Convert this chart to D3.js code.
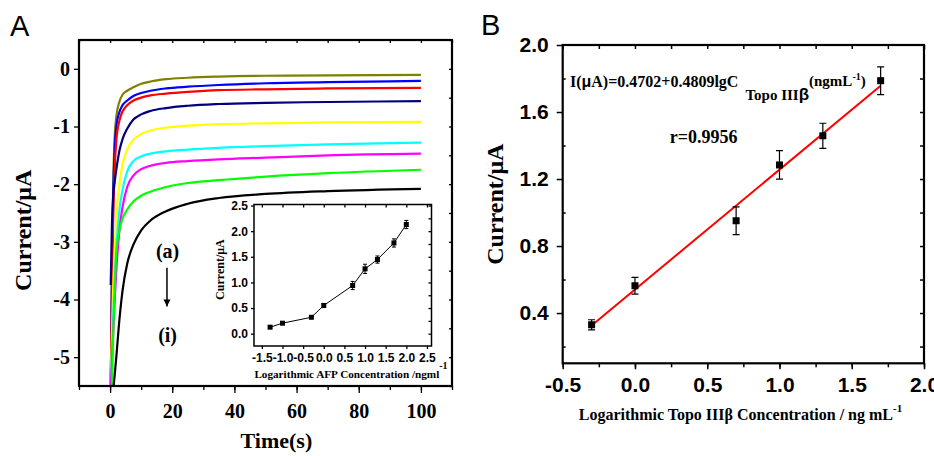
<!DOCTYPE html>
<meta charset="utf-8">
<script src="https://d3js.org/d3.v7.min.js"></script>
<body style="margin:0">
<div id="my_dataviz"></div>
<script>

// ---- panel A : current vs time, curves (a) .. (i)
var timeS = [0.2, 0.6, 1, 1.5, 2, 3, 4, 5.5, 7.5, 10, 13, 18, 25, 35, 50, 70, 100];
var curve_a = [-5.6, -3.4, -2.0, -1.15, -0.83, -0.57, -0.45, -0.38, -0.32, -0.26, -0.22, -0.18, -0.155, -0.135, -0.12, -0.115, -0.105];
var curve_b = [-5.6, -3.6, -2.2, -1.35, -1.0, -0.75, -0.63, -0.55, -0.47, -0.42, -0.38, -0.34, -0.31, -0.28, -0.25, -0.23, -0.21];
var curve_c = [-5.6, -3.9, -2.6, -1.7, -1.25, -0.9, -0.74, -0.63, -0.55, -0.5, -0.46, -0.43, -0.40, -0.37, -0.355, -0.34, -0.33];
var curve_d = [-3.75, -2.7, -2.2, -1.95, -1.75, -1.42, -1.22, -1.04, -0.88, -0.79, -0.73, -0.68, -0.64, -0.61, -0.59, -0.575, -0.56];
var curve_e = [-5.6, -4.6, -3.8, -3.1, -2.6, -2.0, -1.66, -1.40, -1.23, -1.13, -1.07, -1.02, -0.985, -0.96, -0.945, -0.93, -0.92];
var curve_f = [-5.6, -4.9, -4.3, -3.6, -3.1, -2.45, -2.1, -1.78, -1.6, -1.52, -1.47, -1.43, -1.40, -1.37, -1.34, -1.31, -1.28];
var curve_g = [-5.6, -5.1, -4.6, -4.0, -3.5, -2.8, -2.4, -2.05, -1.85, -1.74, -1.68, -1.63, -1.60, -1.57, -1.54, -1.50, -1.47];
var curve_h = [-5.8, -5.5, -4.6, -3.8, -3.2, -2.8, -2.6, -2.44, -2.3, -2.2, -2.13, -2.05, -1.98, -1.93, -1.87, -1.81, -1.75];
var curve_i = [-6.0, -6.0, -5.6, -5.3, -5.0, -4.35, -3.85, -3.38, -3.05, -2.8, -2.63, -2.47, -2.34, -2.24, -2.17, -2.12, -2.08];
var curveColors = ["#808000", "#0000ff", "#ff0000", "#000080", "#ffff00", "#00ffff", "#ff00ff", "#00ff00", "#000000"];
var timeTicks = [0, 20, 40, 60, 80, 100];
var currentTicks = [-5, -4, -3, -2, -1, 0];

// ---- inset : current vs log AFP
var afpLog = [-1.3, -1.0, -0.3, 0, 0.7, 1.0, 1.3, 1.7, 2.0];
var afpCurrent = [0.127, 0.205, 0.32, 0.55, 0.94, 1.265, 1.446, 1.77, 2.13];
var afpError = [0.015, 0.015, 0.02, 0.04, 0.08, 0.09, 0.07, 0.08, 0.08];
var insetXTicks = [-1.5, -1.0, -0.5, 0, 0.5, 1.0, 1.5, 2.0, 2.5];
var insetYTicks = [0, 0.5, 1.0, 1.5, 2.0, 2.5];

// ---- panel B : calibration line
var topoLog = [-0.3, 0, 0.7, 1.0, 1.3, 1.7];
var topoCurrent = [0.33, 0.563, 0.951, 1.284, 1.458, 1.787];
var topoError = [0.03, 0.05, 0.083, 0.085, 0.075, 0.083];
var fitLog = [-0.3, 1.7];
var fitCurrent = [0.326, 1.757];
var bXTicks = [-0.5, 0, 0.5, 1.0, 1.5, 2.0];
var bYTicks = [0.4, 0.8, 1.2, 1.6, 2.0];

var serif = "'Liberation Serif', 'Times New Roman', serif";
var sans = "'Liberation Sans', Arial, sans-serif";

var svg = d3.select("#my_dataviz")
    .append("svg")
    .attr("width", 934)
    .attr("height", 456)
    .style("background", "white");

// styles the text of an axis call and drops the domain path
function styleAxis(g, font, size) {
    g.select(".domain").remove();
    g.selectAll("line").attr("stroke", "black").attr("stroke-width", 1.5);
    g.selectAll("text").attr("font-family", font).attr("font-size", size)
        .attr("font-weight", "bold").attr("fill", "black");
}

// ================= panel A =================
var xA = d3.scaleLinear().domain([-10, 110]).range([79, 452]);
var yA = d3.scaleLinear().domain([-5.5, 0.5]).range([386, 40]);

svg.append("clipPath").attr("id", "clipA")
    .append("rect")
    .attr("x", xA(-10)).attr("y", yA(0.5))
    .attr("width", xA(110) - xA(-10)).attr("height", yA(-5.5) - yA(0.5));

var curves = [curve_a, curve_b, curve_c, curve_d, curve_e, curve_f, curve_g, curve_h, curve_i];
var lineA = d3.line()
    .x(function (d, i) { return xA(timeS[i]) })
    .y(function (d) { return yA(d) })
    .curve(d3.curveMonotoneX);

svg.append("g")
    .attr("clip-path", "url(#clipA)")
    .selectAll("path")
    .data(curves)
    .enter()
    .append("path")
    .attr("d", function (d) { return lineA(d) })
    .attr("stroke", function (d, i) { return curveColors[i] })
    .attr("stroke-width", 2.2)
    .attr("fill", "none");

// minor + major ticks
svg.append("g")
    .attr("transform", "translate(0," + yA(-5.5) + ")")
    .call(d3.axisBottom(xA).tickValues(d3.range(-10, 111, 10)).tickSize(4).tickFormat(""))
    .call(styleAxis, serif, 19);
svg.append("g")
    .attr("transform", "translate(0," + yA(-5.5) + ")")
    .call(d3.axisBottom(xA).tickValues(timeTicks).tickSize(7).tickPadding(11).tickFormat(function (d) { return String(d) }))
    .call(styleAxis, serif, 20);
svg.append("g")
    .attr("transform", "translate(0," + yA(0.5) + ")")
    .call(d3.axisTop(xA).tickValues(d3.range(-10, 111, 10)).tickSize(-3).tickFormat(""))
    .call(styleAxis, serif, 19);
svg.append("g")
    .attr("transform", "translate(" + xA(-10) + ",0)")
    .call(d3.axisLeft(yA).tickValues(currentTicks).tickSize(5).tickPadding(4).tickFormat(function (d) { return String(d) }))
    .call(styleAxis, serif, 20);
svg.append("g")
    .attr("transform", "translate(" + xA(110) + ",0)")
    .call(d3.axisRight(yA).tickValues(d3.range(-5.5, 0.51, 0.5)).tickSize(-3).tickFormat(""))
    .call(styleAxis, serif, 19);

svg.append("rect")
    .attr("x", xA(-10)).attr("y", yA(0.5))
    .attr("width", xA(110) - xA(-10)).attr("height", yA(-5.5) - yA(0.5))
    .attr("fill", "none").attr("stroke", "black").attr("stroke-width", 2.2);

svg.append("text")
    .attr("x", 10).attr("y", 36)
    .attr("font-family", sans).attr("font-size", 29)
    .text("A");

svg.append("text")
    .attr("transform", "translate(23," + yA(-2.8) + ") rotate(-90)")
    .attr("dy", "0.35em")
    .attr("text-anchor", "middle")
    .attr("font-family", serif).attr("font-size", 24).attr("font-weight", "bold")
    .text("Current/μA");

svg.append("text")
    .attr("x", xA(53.5)).attr("y", 448)
    .attr("text-anchor", "middle")
    .attr("font-family", serif).attr("font-size", 22).attr("font-weight", "bold")
    .text("Time(s)");

// (a) -> (i) arrow
svg.append("defs").append("marker")
    .attr("id", "head")
    .attr("viewBox", "0 0 10 10")
    .attr("refX", 10).attr("refY", 5)
    .attr("markerWidth", 7).attr("markerHeight", 9)
    .attr("markerUnits", "userSpaceOnUse")
    .attr("orient", "auto")
    .append("path").attr("d", "M0,0 L10,5 L0,10 Z").attr("fill", "black");

svg.append("text")
    .attr("x", xA(18.5)).attr("y", yA(-3.28))
    .attr("text-anchor", "middle")
    .attr("font-family", serif).attr("font-size", 20).attr("font-weight", "bold")
    .text("(a)");
svg.append("line")
    .attr("x1", xA(18.3)).attr("x2", xA(18.3))
    .attr("y1", yA(-3.45)).attr("y2", yA(-4.12))
    .attr("stroke", "black").attr("stroke-width", 1.5)
    .attr("marker-end", "url(#head)");
svg.append("text")
    .attr("x", xA(18.5)).attr("y", yA(-4.73))
    .attr("text-anchor", "middle")
    .attr("font-family", serif).attr("font-size", 20).attr("font-weight", "bold")
    .text("(i)");

// ================= inset =================
var xI = d3.scaleLinear().domain([-1.69, 2.61]).range([254, 431.5]);
var yI = d3.scaleLinear().domain([-0.24, 2.52]).range([346, 204.5]);

svg.append("rect")
    .attr("x", xI(-1.69)).attr("y", yI(2.52))
    .attr("width", xI(2.61) - xI(-1.69)).attr("height", yI(-0.24) - yI(2.52))
    .attr("fill", "white");

svg.append("g")
    .attr("transform", "translate(0," + yI(-0.24) + ")")
    .call(d3.axisBottom(xI).tickValues(insetXTicks).tickSize(3).tickPadding(4).tickFormat(function (d) { return d.toFixed(1) }))
    .call(styleAxis, sans, 12);
svg.append("g")
    .attr("transform", "translate(" + xI(-1.69) + ",0)")
    .call(d3.axisLeft(yI).tickValues(insetYTicks).tickSize(3).tickPadding(3).tickFormat(function (d) { return d.toFixed(1) }))
    .call(styleAxis, sans, 12);
svg.append("g")
    .attr("transform", "translate(" + xI(2.61) + ",0)")
    .call(d3.axisRight(yI).tickValues(d3.range(-0.0, 2.51, 0.25)).tickSize(-3).tickFormat(""))
    .call(styleAxis, sans, 12);
svg.append("g")
    .attr("transform", "translate(0," + yI(2.52) + ")")
    .call(d3.axisTop(xI).tickValues(insetXTicks).tickSize(-3).tickFormat(""))
    .call(styleAxis, sans, 12);

svg.selectAll("g line").attr("stroke-width", 1.3);

var lineI = d3.line()
    .x(function (d, i) { return xI(afpLog[i]) })
    .y(function (d) { return yI(d) });
svg.append("path")
    .attr("d", lineI(afpCurrent))
    .attr("stroke", "black").attr("stroke-width", 1).attr("fill", "none");

var insetPts = svg.append("g")
    .selectAll("g")
    .data(afpCurrent)
    .enter()
    .append("g");
insetPts.append("path")
    .attr("d", function (d, i) {
        var x = xI(afpLog[i]), y0 = yI(d - afpError[i]), y1 = yI(d + afpError[i]);
        return "M" + x + "," + y0 + "V" + y1 + "M" + (x - 2) + "," + y0 + "H" + (x + 2) + "M" + (x - 2) + "," + y1 + "H" + (x + 2);
    })
    .attr("stroke", "black").attr("stroke-width", 1).attr("fill", "none");
insetPts.append("rect")
    .attr("x", function (d, i) { return xI(afpLog[i]) - 2.5 })
    .attr("y", function (d) { return yI(d) - 2.5 })
    .attr("width", 5).attr("height", 5)
    .attr("fill", "black");

svg.append("rect")
    .attr("x", xI(-1.69)).attr("y", yI(2.52))
    .attr("width", xI(2.61) - xI(-1.69)).attr("height", yI(-0.24) - yI(2.52))
    .attr("fill", "none").attr("stroke", "black").attr("stroke-width", 1.5);

svg.append("text")
    .attr("transform", "translate(" + 220 + "," + yI(1.25) + ") rotate(-90)")
    .attr("dy", "0.35em")
    .attr("text-anchor", "middle")
    .attr("font-family", serif).attr("font-size", 12).attr("font-weight", "bold")
    .text("Current/μA");

var insetLabel = svg.append("text")
    .attr("x", xI(0.66)).attr("y", 378)
    .attr("text-anchor", "middle")
    .attr("font-family", serif).attr("font-size", 11.2).attr("font-weight", "bold");
insetLabel.append("tspan").text("Logarithmic AFP Concentration /ngml");
insetLabel.append("tspan").attr("dy", -9).attr("font-size", 10).text("-1");

// ================= panel B =================
var xB = d3.scaleLinear().domain([-0.5, 2.0]).range([562.7, 924]);
var yB = d3.scaleLinear().domain([0.1, 2.0]).range([363.3, 45]);

svg.append("g")
    .attr("transform", "translate(0," + yB(0.1) + ")")
    .call(d3.axisBottom(xB).tickValues(d3.range(-0.5, 2.01, 0.25)).tickSize(4).tickFormat(""))
    .call(styleAxis, sans, 21);
svg.append("g")
    .attr("transform", "translate(0," + yB(0.1) + ")")
    .call(d3.axisBottom(xB).tickValues(bXTicks).tickSize(6).tickPadding(8).tickFormat(function (d) { return d.toFixed(1) }))
    .call(styleAxis, sans, 21);
svg.append("g")
    .attr("transform", "translate(0," + yB(2.0) + ")")
    .call(d3.axisTop(xB).tickValues(d3.range(-0.5, 2.01, 0.25)).tickSize(-4).tickFormat(""))
    .call(styleAxis, sans, 21);
svg.append("g")
    .attr("transform", "translate(" + xB(-0.5) + ",0)")
    .call(d3.axisLeft(yB).tickValues(bYTicks).tickSize(6).tickPadding(8).tickFormat(function (d) { return d.toFixed(1) }))
    .call(styleAxis, sans, 21);
svg.append("g")
    .attr("transform", "translate(" + xB(-0.5) + ",0)")
    .call(d3.axisLeft(yB).tickValues([0.2, 0.6, 1.0, 1.4, 1.8]).tickSize(-3).tickFormat(""))
    .call(styleAxis, sans, 21);
svg.append("g")
    .attr("transform", "translate(" + xB(2.0) + ",0)")
    .call(d3.axisRight(yB).tickValues(d3.range(0.2, 2.0, 0.2)).tickSize(-4).tickFormat(""))
    .call(styleAxis, sans, 21);

svg.append("rect")
    .attr("x", xB(-0.5)).attr("y", yB(2.0))
    .attr("width", xB(2.0) - xB(-0.5)).attr("height", yB(0.1) - yB(2.0))
    .attr("fill", "none").attr("stroke", "black").attr("stroke-width", 2.2);

var lineB = d3.line()
    .x(function (d, i) { return xB(fitLog[i]) })
    .y(function (d) { return yB(d) });
svg.append("path")
    .attr("d", lineB(fitCurrent))
    .attr("stroke", "#ff0000").attr("stroke-width", 2).attr("fill", "none");

var bPts = svg.append("g")
    .selectAll("g")
    .data(topoCurrent)
    .enter()
    .append("g");
bPts.append("path")
    .attr("d", function (d, i) {
        var x = xB(topoLog[i]), y0 = yB(d - topoError[i]), y1 = yB(d + topoError[i]);
        return "M" + x + "," + y0 + "V" + y1 + "M" + (x - 3.5) + "," + y0 + "H" + (x + 3.5) + "M" + (x - 3.5) + "," + y1 + "H" + (x + 3.5);
    })
    .attr("stroke", "black").attr("stroke-width", 1.2).attr("fill", "none");
bPts.append("rect")
    .attr("x", function (d, i) { return xB(topoLog[i]) - 3.5 })
    .attr("y", function (d) { return yB(d) - 3.5 })
    .attr("width", 7).attr("height", 7)
    .attr("fill", "black");

svg.append("text")
    .attr("x", 481).attr("y", 35)
    .attr("font-family", sans).attr("font-size", 29)
    .text("B");

svg.append("text")
    .attr("transform", "translate(495," + yB(1.05) + ") rotate(-90)")
    .attr("dy", "0.35em")
    .attr("text-anchor", "middle")
    .attr("font-family", serif).attr("font-size", 24).attr("font-weight", "bold")
    .text("Current/μA");

var bLabel = svg.append("text")
    .attr("x", xB(0.73)).attr("y", 420)
    .attr("text-anchor", "middle")
    .attr("font-family", serif).attr("font-size", 16).attr("font-weight", "bold");
bLabel.append("tspan").text("Logarithmic Topo IIIβ Concentration / ng mL");
bLabel.append("tspan").attr("dy", -8).attr("font-size", 11).text("-1");

// regression equation
var eq = svg.append("text")
    .attr("x", xB(-0.45)).attr("y", yB(1.749))
    .attr("font-family", serif).attr("font-size", 16).attr("font-weight", "bold");
eq.append("tspan").text("I(");
eq.append("tspan").attr("font-family", sans).text("μ");
eq.append("tspan").text("A)=0.4702+0.4809lgC");
eq.append("tspan").attr("dx", 7).attr("dy", 13).attr("font-size", 15).text("Topo III");
eq.append("tspan").attr("font-family", sans).attr("font-size", 17).text("β");
eq.append("tspan").attr("dy", -14).attr("font-size", 15).text("(ngmL");
eq.append("tspan").attr("dy", -6).attr("font-size", 10).text("-1");
eq.append("tspan").attr("dy", 6).attr("font-size", 15).text(")");

svg.append("text")
    .attr("x", xB(0.24)).attr("y", yB(1.414))
    .attr("font-family", serif).attr("font-size", 18).attr("font-weight", "bold")
    .text("r=0.9956");

</script>
</body>
